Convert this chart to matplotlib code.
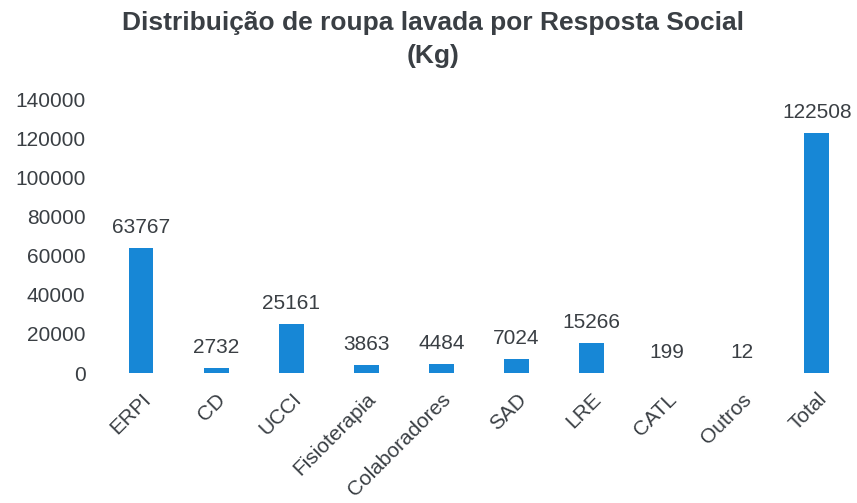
import matplotlib.pyplot as plt
from matplotlib import font_manager

categorias = ['ERPI', 'CD', 'UCCI', 'Fisioterapia', 'Colaboradores', 'SAD', 'LRE', 'CATL', 'Outros', 'Total']
valores = [63767, 2732, 25161, 3863, 4484, 7024, 15266, 199, 12, 122508]
y_ticks = [0, 20000, 40000, 60000, 80000, 100000, 120000, 140000]

nomes = {f.name for f in font_manager.fontManager.ttflist}
fonte = 'Liberation Sans' if 'Liberation Sans' in nomes else 'DejaVu Sans'
fonte_titulo = 'Liberation Sans Narrow' if 'Liberation Sans Narrow' in nomes else fonte

cinza = '#3a3f44'
azul = '#1787d6'

fig = plt.figure(figsize=(8.57, 5.03), dpi=100)
ax = fig.add_axes([0.1208, 0.2584, 0.8762, 0.5446])

x = range(len(categorias))
ax.bar(x, valores, width=0.33, color=azul)
for xi, v in zip(x, valores):
    ax.annotate(str(v), (xi, v), xytext=(0, 8), textcoords='offset points',
                ha='center', va='bottom', fontsize=15, color=cinza, family=fonte)

ax.set_xlim(-0.5, len(categorias) - 0.5)
ax.set_ylim(0, 140000)
ax.set_yticks(y_ticks)
ax.set_yticklabels([str(t) for t in y_ticks], fontsize=15, color=cinza, family=fonte)
ax.set_xticks(list(x))
ax.set_xticklabels(categorias, rotation=45, ha='right', va='top', rotation_mode='anchor',
                   fontsize=15, color=cinza, family=fonte)
ax.tick_params(axis='y', length=0, pad=13)
ax.tick_params(axis='x', length=0, pad=12)
for s in ax.spines.values():
    s.set_visible(False)

fig.text(0.505, 0.978, 'Distribuição de roupa lavada por Resposta Social\n(Kg)',
         ha='center', va='top', fontsize=19, fontweight='bold', color=cinza,
         family=fonte_titulo, linespacing=1.45)

fig.savefig('out.png', dpi=100)
